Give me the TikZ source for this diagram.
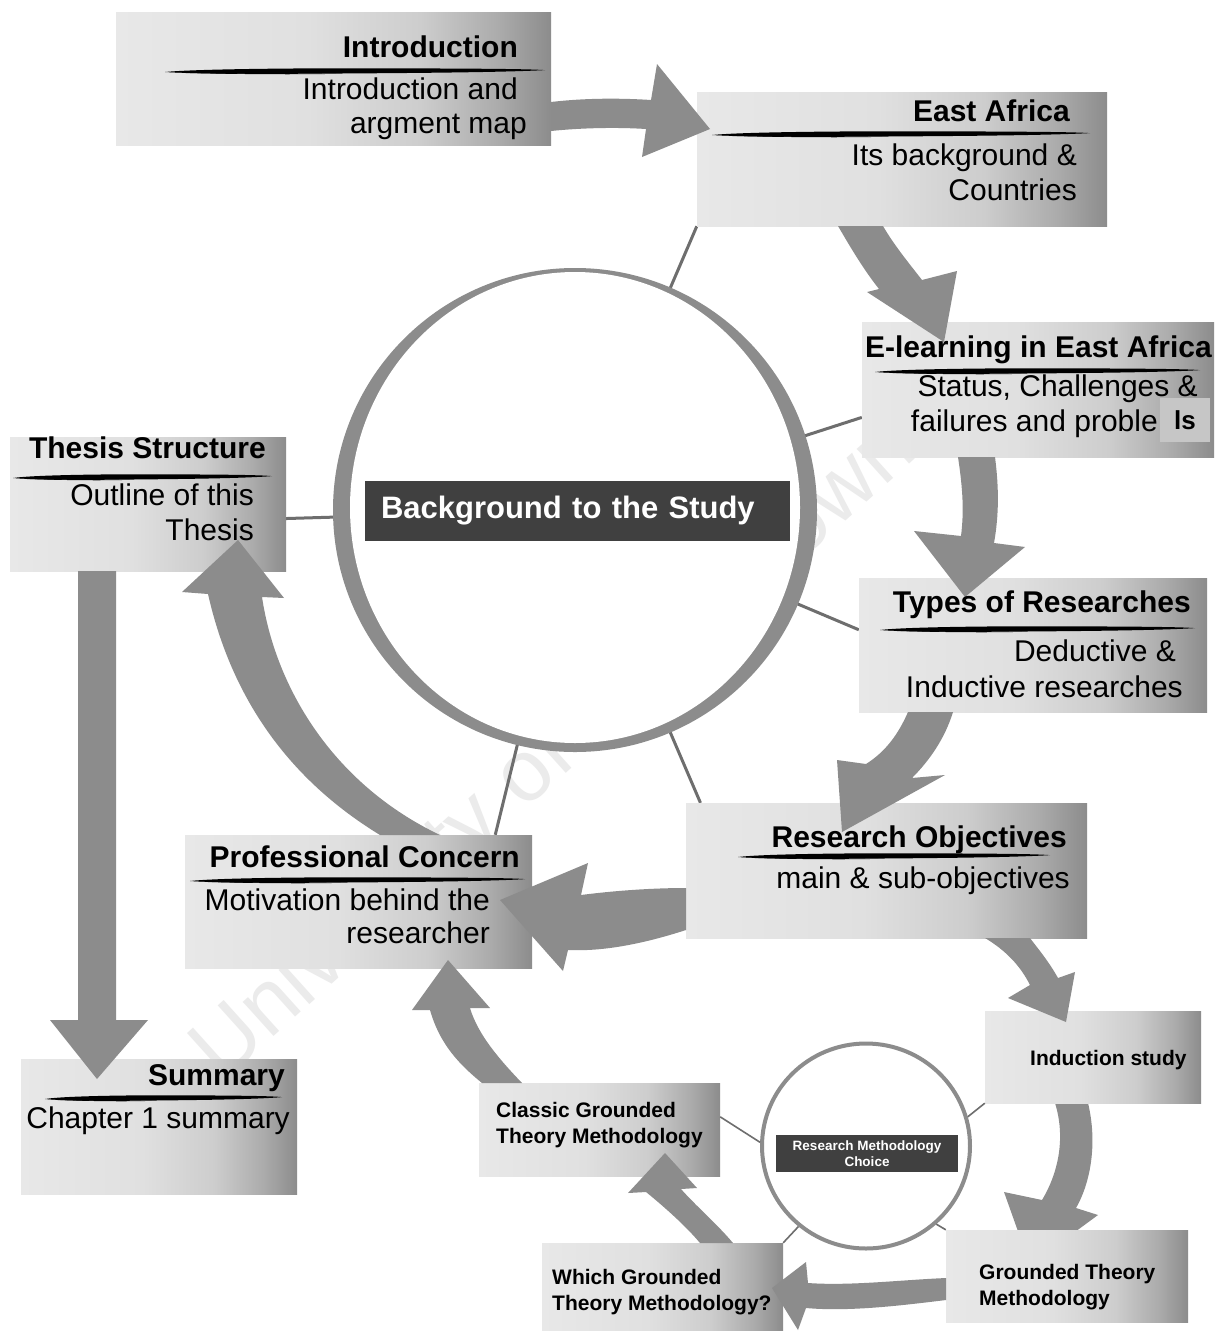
\documentclass[tikz,border=0pt]{standalone}
\usepackage{fontspec}
\setmainfont{Liberation Sans}
\usetikzlibrary{calc,shapes.geometric}

\definecolor{panelA}{HTML}{E8E8E8}
\definecolor{panelB}{HTML}{E0E0E0}
\definecolor{panelC}{HTML}{CDCDCD}
\definecolor{panelD}{HTML}{ABABAB}
\definecolor{panelE}{HTML}{8C8C8C}
\definecolor{arrowgray}{HTML}{8C8C8C}
\definecolor{ringgray}{HTML}{8C8C8C}
\definecolor{spokegray}{HTML}{6E6E6E}
\definecolor{labeldark}{HTML}{404040}
\definecolor{patchgray}{HTML}{C6C6C6}
\definecolor{watermark}{HTML}{EBEBEB}

% light-to-dark panel fill, darkening only towards the right edge
\pgfdeclarehorizontalshading{panelshade}{100bp}{color(0bp)=(panelA); color(25bp)=(panelA); color(47bp)=(panelB); color(60bp)=(panelC); color(69bp)=(panelD); color(75bp)=(panelE); color(100bp)=(panelE)}

\pgfdeclarelayer{back}
\pgfdeclarelayer{spokes}
\pgfsetlayers{back,spokes,main}

\newcommand\panelat[5]{\node[panel, minimum width={#4-#2}, minimum height={#5-#3}] (#1) at ({(#2+#4)/2},{(#3+#5)/2}) {};}
\newcommand\bigtitle{\fontsize{30}{36}\selectfont\bfseries}
\newcommand\bigbody{\fontsize{30}{36}\selectfont}
\newcommand\smallhead{\fontsize{21}{26}\selectfont\bfseries}

\tikzset{
  panel/.style={rectangle, shading=panelshade, shade, draw=none, inner sep=0pt},
  blockarrow/.style={fill=arrowgray, draw=none},
  spoke/.style={draw=spokegray, line width=3pt},
  thinspoke/.style={draw=spokegray, line width=1.6pt},
  headtext/.style={inner sep=0pt, anchor=base east, font=\bigtitle},
  bodytext/.style={inner sep=0pt, anchor=base east, font=\bigbody},
  steptext/.style={inner sep=0pt, anchor=base west, font=\smallhead, align=left},
  % ragged ink stroke, one unit long, drawn under each heading
  brushline/.pic={
    \fill[black] (0,1) .. controls (0.08,-2) and (0.35,-3) .. (0.6,-2.7)
      .. controls (0.8,-2.4) and (0.95,-2.2) .. (1,-0.9)
      .. controls (0.9,1.1) and (0.7,1.9) .. (0.5,2.4)
      .. controls (0.3,3) and (0.1,3.2) .. (0,1) -- cycle;
    \fill[black] (0.01,1.6) .. controls (0.2,3.4) and (0.35,3.6) .. (0.45,2.8)
      .. controls (0.3,2.6) and (0.15,2.2) .. (0.01,1.6) -- cycle;
  },
}

\begin{document}
\begin{tikzpicture}[x=1pt,y=-1pt]
\useasboundingbox (0,0) rectangle (1224,1331);

% page ground and watermark behind everything
\begin{pgfonlayer}{back}
  \fill[white] (0,0) rectangle (1224,1331);
  \node[text=watermark, font=\fontsize{87}{90}\selectfont, rotate=42, inner sep=0pt] (mark) at (556,752) {University of Cape Town};
\end{pgfonlayer}

% central hub
\node[circle, fill=ringgray, draw=none, minimum size=484pt, inner sep=0pt] (bigc) at (575,510) {};
\fill[white] (575,507.5) ellipse [x radius=225, y radius=235.5];
\node[fill=labeldark, text=white, font=\fontsize{31}{36}\selectfont\bfseries, minimum height=60pt, text width=393pt, inner xsep=16pt, inner ysep=0pt, align=left] (hub) at (577.5,511) {Background to the Study};

% chapter panels
\panelat{intro}{116}{12}{551}{145}
\panelat{eafrica}{697}{92}{1107}{226}
\panelat{elearn}{862}{322}{1214}{457}
\panelat{types}{859}{578}{1207}{712}
\panelat{objectives}{686}{803}{1087}{938}
\panelat{concern}{185}{835}{532}{968}
\panelat{structure}{10}{437}{286}{571}
\panelat{summary}{21}{1059}{297}{1194}

% methodology cycle
\node[ellipse, draw=ringgray, line width=4pt, fill=white, minimum width=208pt, minimum height=205pt, inner sep=0pt] (smallc) at (866,1146) {};
\node[fill=labeldark, text=white, font=\fontsize{13.5}{16}\selectfont\bfseries, align=center, minimum width=182pt, minimum height=37pt, inner sep=0pt] (choice) at (867,1153.5) {Research Methodology\\Choice};
\panelat{induction}{985}{1011}{1201}{1103}
\panelat{grounded}{946}{1230}{1188}{1322}
\panelat{which}{542}{1243}{783}{1331}
\panelat{classic}{479}{1083}{720}{1176}

% spokes from the hub to the panels, and the arrow tucked under its target panel
\begin{pgfonlayer}{spokes}
  \draw[spoke] (bigc.center) -- (eafrica.south west);
  \draw[spoke] (bigc.center) -- (elearn.189);
  \draw[spoke] (bigc.center) -- (types.175);
  \draw[spoke] (bigc.center) -- (objectives.160);
  \draw[spoke] (bigc.center) -- (concern.26);
  \draw[spoke] (bigc.center) -- (structure.-6);
  \fill[blockarrow] (1055,1103) .. controls (1065,1135) and (1060,1170) .. (1042,1200) -- (1004,1192) -- (1030,1265) -- (1098,1215) -- (1076,1208) .. controls (1092,1180) and (1097,1140) .. (1088,1103) -- cycle;
\end{pgfonlayer}
\draw[thinspoke] (classic.6) -- (smallc.178);
\draw[thinspoke] (induction.south west) -- (smallc.16);
\draw[thinspoke] (which.north east) -- (smallc.230);
\draw[thinspoke] (grounded.north west) -- (smallc.-48);

% block arrows
\fill[blockarrow] (551,102) .. controls (585,98) and (620,98) .. (651,100) -- (657,64) -- (710,129) -- (642,157) -- (646,129) .. controls (615,127) and (580,128) .. (551,131) -- cycle;
\fill[blockarrow] (838,226) .. controls (852,250) and (864,270) .. (879,289) -- (867,292) -- (944,342) -- (957,271) -- (922,280) .. controls (908,262) and (894,245) .. (883,226) -- cycle;
\fill[blockarrow] (958,457) .. controls (963,490) and (964,512) .. (961,536) -- (914,531) -- (965,597) -- (1025,547) -- (994,543) .. controls (999,515) and (999,488) .. (995,457) -- cycle;
\fill[blockarrow] (908,712) .. controls (898,735) and (885,752) .. (866,764) -- (837,760) -- (842,832) -- (945,775) -- (912,778) .. controls (930,760) and (945,738) .. (953,712) -- cycle;
\fill[blockarrow] (686,888) .. controls (650,888) and (612,891) .. (581,895) -- (588,863) -- (500,900) -- (563,971) -- (568,950) .. controls (610,952) and (655,940) .. (686,930) -- cycle;
\fill[blockarrow] (208,594) -- (182,592) -- (238,540) -- (284,598) -- (262,597) .. controls (276,690) and (335,785) .. (440,835) -- (380,835) .. controls (290,780) and (232,700) .. (208,594) -- cycle;
\fill[blockarrow] (78,571) -- (78,1020) -- (50,1020) -- (97,1079) -- (148,1020) -- (116,1020) -- (116,571) -- cycle;
\fill[blockarrow] (985,938) .. controls (1005,950) and (1020,965) .. (1030,985) -- (1008,998) -- (1066,1022) -- (1075,972) -- (1058,978) .. controls (1048,960) and (1035,945) .. (1030,938) -- cycle;
\fill[blockarrow] (946,1278) .. controls (900,1280) and (850,1286) .. (808,1283) -- (806,1262) -- (772,1288) -- (798,1330) -- (806,1308) .. controls (850,1312) and (905,1305) .. (946,1300) -- cycle;
\fill[blockarrow] (700,1243) .. controls (685,1225) and (662,1205) .. (646,1192) -- (628,1193) -- (665,1153) -- (697,1188) -- (681,1189) .. controls (695,1205) and (718,1225) .. (733,1243) -- cycle;
\fill[blockarrow] (482,1083) .. controls (460,1065) and (440,1045) .. (430,1010) -- (412,1010) -- (448,960) -- (490,1008) -- (470,1008) .. controls (478,1035) and (500,1060) .. (522,1083) -- cycle;

% panel texts
\node[headtext] (intro-t) at (518,57) {Introduction};
\node[bodytext] (intro-a) at (518,99) {Introduction and};
\node[bodytext] (intro-b) at (527,133) {argment map};
\node[headtext] (eafrica-t) at (1070,121) {East Africa};
\node[bodytext] (eafrica-a) at (1077,165) {Its background \&};
\node[bodytext] (eafrica-b) at (1077,200) {Countries};
\node[headtext] (elearn-t) at (1212,357) {E-learning in East Africa};
\node[bodytext] (elearn-a) at (1198,396) {Status, Challenges \&};
\node[bodytext] (elearn-b) at (1158,431) {failures and proble};
\node[fill=patchgray, minimum width=50pt, minimum height=44pt, inner sep=0pt, font=\fontsize{26}{30}\selectfont\bfseries] (patch) at (1185,420) {ls};
\node[headtext] (types-t) at (1191,612) {Types of Researches};
\node[bodytext] (types-a) at (1176,661) {Deductive \&};
\node[bodytext] (types-b) at (1183,697) {Inductive researches};
\node[headtext] (objectives-t) at (1067,847) {Research Objectives};
\node[bodytext] (objectives-a) at (1070,888) {main \& sub-objectives};
\node[headtext] (concern-t) at (520,867) {Professional Concern};
\node[bodytext] (concern-a) at (490,910) {Motivation behind the};
\node[bodytext] (concern-b) at (490,943) {researcher};
\node[headtext] (structure-t) at (266,458) {Thesis Structure};
\node[bodytext] (structure-a) at (254,505) {Outline of this};
\node[bodytext] (structure-b) at (254,540) {Thesis};
\node[headtext] (summary-t) at (285,1085) {Summary};
\node[bodytext] (summary-a) at (290,1128) {Chapter 1 summary};

\node[steptext] (induction-t) at (1030,1065) {Induction study};
\node[steptext] (grounded-t) at (979,1305) {Grounded Theory\\Methodology};
\node[steptext] (which-t) at (552,1310) {Which Grounded\\Theory Methodology?};
\node[steptext] (classic-t) at (496,1143) {Classic Grounded\\Theory Methodology};

% brush-stroke rules under the headings
\path (165,71) pic[xscale=380] {brushline};
\path (712,134) pic[xscale=378] {brushline};
\path (875,371) pic[xscale=325] {brushline};
\path (880,629) pic[xscale=315] {brushline};
\path (738,856) pic[xscale=312] {brushline};
\path (190,880) pic[xscale=335] {brushline};
\path (13,477) pic[xscale=259] {brushline};
\path (45,1098) pic[xscale=237] {brushline};
\end{tikzpicture}
\end{document}
